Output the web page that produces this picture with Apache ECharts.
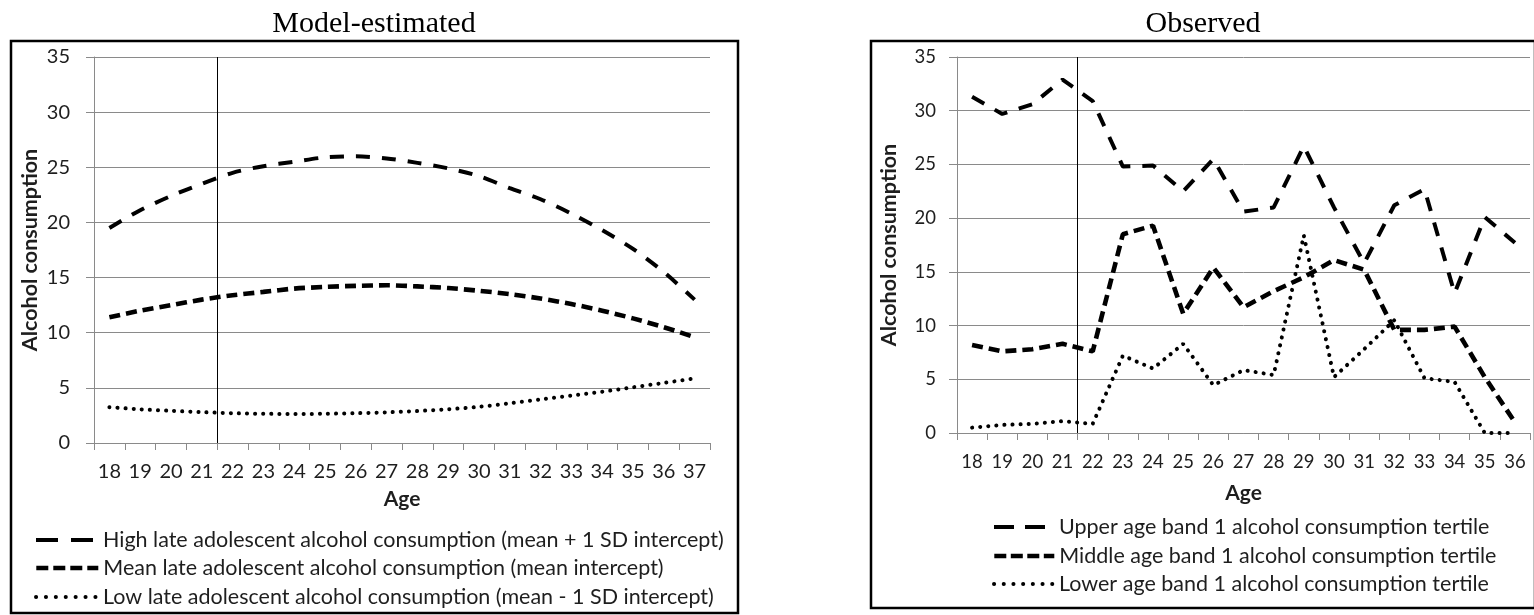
<!DOCTYPE html>
<html>
<head>
<meta charset="utf-8">
<title>Alcohol consumption by age</title>
<script src="https://cdn.jsdelivr.net/npm/echarts@6/dist/echarts.min.js"></script>
<style>
  html, body { margin: 0; padding: 0; background: #fff; }
  #chart { width: 1534px; height: 615px; }
</style>
</head>
<body>
<div id="chart"></div>
<script>
// Ages on the two category axes
const modelAges = ['18','19','20','21','22','23','24','25','26','27','28','29','30','31','32','33','34','35','36','37'];
const observedAges = ['18','19','20','21','22','23','24','25','26','27','28','29','30','31','32','33','34','35','36'];

// Model-estimated trajectories
const highModel = [19.5, 21.1, 22.4, 23.5, 24.5, 25.1, 25.5, 25.9, 26.0, 25.8, 25.4, 24.9, 24.2, 23.1, 22.1, 20.8, 19.3, 17.6, 15.5, 13.0];
const meanModel = [11.4, 12.0, 12.5, 13.0, 13.4, 13.7, 14.0, 14.15, 14.25, 14.3, 14.2, 14.05, 13.8, 13.5, 13.1, 12.6, 12.0, 11.3, 10.5, 9.6];
const lowModel  = [3.25, 3.05, 2.92, 2.8, 2.7, 2.65, 2.63, 2.65, 2.7, 2.78, 2.9, 3.06, 3.28, 3.6, 3.95, 4.3, 4.65, 5.05, 5.45, 5.85];

// Observed means by age band 1 tertile
const upperObserved  = [31.3, 29.7, 30.6, 32.9, 30.9, 24.8, 24.9, 22.5, 25.5, 20.6, 21.0, 26.7, 21.0, 15.8, 21.2, 22.7, 13.0, 20.1, 17.7];
const middleObserved = [8.2, 7.6, 7.8, 8.3, 7.6, 18.5, 19.3, 11.1, 15.4, 11.7, 13.2, 14.5, 16.1, 15.2, 9.6, 9.6, 9.9, 5.2, 1.0];
const lowerObserved  = [0.5, 0.75, 0.85, 1.1, 0.85, 7.2, 6.0, 8.3, 4.45, 5.85, 5.4, 18.4, 5.2, 7.8, 10.5, 5.1, 4.75, 0, 0];

// Value axis ticks
const yMin = 0, yMax = 35, yStep = 5;

// First age of the later period; a vertical rule separates it from the age before
const cutoffAge = 22;

// Series / legend names
const modelNames = [
  'High late adolescent alcohol consumption (mean + 1 SD intercept)',
  'Mean late adolescent alcohol consumption (mean intercept)',
  'Low late adolescent alcohol consumption (mean - 1 SD intercept)'
];
const observedNames = [
  'Upper age band 1 alcohol consumption tertile',
  'Middle age band 1 alcohol consumption tertile',
  'Lower age band 1 alcohol consumption tertile'
];

const SANS = 'Lato, "Open Sans", sans-serif';
const SERIF = '"Liberation Serif", "DejaVu Serif", serif';
const GRID_GRAY = '#8a8a8a';
const TEXT = '#1e1e1e';

const longDash   = { type: [14, 12], width: 4, cap: 'butt' };
const mediumDash = { type: [11, 6], width: 4.6, cap: 'butt' };
const dotted     = { type: [0.1, 8], width: 4, cap: 'round' };

function valueAxis(gridIndex, fontSize, margin, nameGap) {
  return {
    type: 'value', gridIndex, min: yMin, max: yMax, interval: yStep,
    name: 'Alcohol consumption', nameLocation: 'middle', nameRotate: 90, nameGap,
    nameTextStyle: { fontFamily: SANS, fontWeight: 'bold', fontSize: 21.5, color: TEXT },
    axisLine: { show: true, lineStyle: { color: GRID_GRAY, width: 1 } },
    axisTick: { show: true, length: 8, lineStyle: { color: GRID_GRAY, width: 1 } },
    axisLabel: { fontFamily: SANS, fontSize, color: TEXT, margin },
    splitLine: { show: true, lineStyle: { color: GRID_GRAY, width: 1 } }
  };
}

function categoryAxis(gridIndex, ages, fontSize, margin, nameGap) {
  return {
    type: 'category', gridIndex, data: ages, boundaryGap: true,
    name: 'Age', nameLocation: 'middle', nameGap,
    nameTextStyle: { fontFamily: SANS, fontWeight: 'bold', fontSize: 21, color: TEXT },
    axisLine: { show: true, lineStyle: { color: GRID_GRAY, width: 1 } },
    axisTick: { show: true, length: 7, interval: 0, lineStyle: { color: GRID_GRAY, width: 1 } },
    axisLabel: { fontFamily: SANS, fontSize, color: TEXT, margin, interval: 0 },
    splitLine: { show: false }
  };
}

// Hidden numeric age axis sharing a grid, used to place the cutoff rule on a band edge
function ageScaleAxis(gridIndex, ages) {
  return {
    type: 'value', gridIndex, show: false,
    min: Number(ages[0]) - 0.5, max: Number(ages[ages.length - 1]) + 0.5,
    splitLine: { show: false }
  };
}

function cutoffRule(xAxisIndex, yAxisIndex) {
  return {
    name: 'cutoff', type: 'line', data: [], xAxisIndex, yAxisIndex, silent: true,
    markLine: {
      silent: true, symbol: 'none', animation: false,
      label: { show: false },
      lineStyle: { color: '#000', width: 1, type: 'solid' },
      data: [{ xAxis: cutoffAge - 0.5 }]
    }
  };
}

function lineSeries(name, data, axisIndex, style, smooth) {
  return {
    name, type: 'line', data, xAxisIndex: axisIndex, yAxisIndex: axisIndex,
    symbol: 'none', smooth: smooth, silent: true,
    lineStyle: Object.assign({ color: '#000' }, style),
    itemStyle: { color: '#000' }
  };
}

function legendEntry(name, left, top, width, style) {
  return {
    data: [name], left, top, orient: 'horizontal', padding: 0,
    itemWidth: width, itemHeight: 14, selectedMode: false,
    itemStyle: { opacity: 0 },
    lineStyle: Object.assign({ color: '#000' }, style),
    textStyle: { fontFamily: SANS, fontSize: 21.5, color: TEXT, lineHeight: 22 }
  };
}

const chart = echarts.init(document.getElementById('chart'), null, { renderer: 'canvas' });

chart.setOption({
  animation: false,
  backgroundColor: '#fff',
  title: [
    { text: 'Model-estimated', left: 374, top: 9, textAlign: 'center', padding: 0,
      textStyle: { fontFamily: SERIF, fontWeight: 'normal', fontSize: 30, color: '#000', lineHeight: 30 } },
    { text: 'Observed', left: 1203, top: 9, textAlign: 'center', padding: 0,
      textStyle: { fontFamily: SERIF, fontWeight: 'normal', fontSize: 30, color: '#000', lineHeight: 30 } }
  ],
  graphic: [
    { type: 'rect', silent: true, shape: { x: 11, y: 41, width: 727, height: 572 },
      style: { fill: 'none', stroke: '#000', lineWidth: 2.5 } },
    { type: 'rect', silent: true, shape: { x: 871, y: 41, width: 664, height: 567 },
      style: { fill: 'none', stroke: '#000', lineWidth: 2.5 } }
  ],
  grid: [
    { left: 94, top: 57, width: 616, height: 386 },
    { left: 957, top: 57, width: 573, height: 376 }
  ],
  xAxis: [
    categoryAxis(0, modelAges, 20, 19, 46),
    categoryAxis(1, observedAges, 18.5, 20, 50),
    ageScaleAxis(0, modelAges),
    ageScaleAxis(1, observedAges)
  ],
  yAxis: [
    valueAxis(0, 20, 24, 53),
    valueAxis(1, 18.5, 21, 57)
  ],
  legend: [
    legendEntry(modelNames[0], 34, 529, 62, { type: [22, 13], width: 4 }),
    legendEntry(modelNames[1], 34, 557, 62, { type: [12, 5], width: 4.6 }),
    legendEntry(modelNames[2], 34, 586, 62, { type: [0.1, 9.8], width: 4, cap: 'round' }),
    legendEntry(observedNames[0], 992, 516, 60, { type: [20, 11], width: 4 }),
    legendEntry(observedNames[1], 992, 545, 60, { type: [12, 4.5], width: 4.6 }),
    legendEntry(observedNames[2], 992, 573, 60, { type: [0.1, 9.6], width: 4, cap: 'round' })
  ],
  series: [
    cutoffRule(2, 0),
    cutoffRule(3, 1),
    lineSeries(modelNames[0], highModel, 0, longDash, 0.3),
    lineSeries(modelNames[1], meanModel, 0, mediumDash, 0.3),
    lineSeries(modelNames[2], lowModel, 0, dotted, 0.3),
    lineSeries(observedNames[0], upperObserved, 1, longDash, false),
    lineSeries(observedNames[1], middleObserved, 1, mediumDash, false),
    lineSeries(observedNames[2], lowerObserved, 1, dotted, false)
  ]
});
</script>
</body>
</html>
